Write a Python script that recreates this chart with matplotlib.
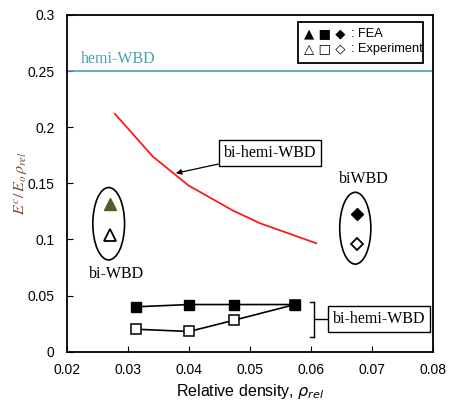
import numpy as np
import matplotlib.pyplot as plt
from matplotlib.patches import Ellipse, Rectangle

# bi-hemi-WBD theory curve (red)
curve_x = [0.0278, 0.034, 0.0399, 0.0472, 0.0516, 0.0608]
curve_y = [0.212, 0.174, 0.148, 0.1256, 0.1144, 0.0966]

hemi_wbd = 0.25

# bi-WBD (triangles)
biwbd_x = 0.027
biwbd_fea = 0.132
biwbd_exp = 0.104

# biWBD (diamonds)
bw_x = 0.0675
bw_fea = 0.123
bw_exp = 0.096

# bi-hemi-WBD squares
sq_x = [0.0313, 0.040, 0.0473, 0.0573]
sq_fea = [0.040, 0.042, 0.042, 0.042]
sq_exp = [0.020, 0.018, 0.028, 0.042]

serif = "Liberation Serif"
sans = "Liberation Sans"

fig = plt.figure(figsize=(4.51, 4.04), dpi=100)
ax = fig.add_axes([0.149, 0.1295, 0.812, 0.8335])

ax.axhline(hemi_wbd, color="#4a9fb0", lw=1.2)
ax.plot(curve_x, curve_y, "-", color="#ff1a1a", lw=1.3)

ax.plot(sq_x, sq_exp, "ks-", mfc="white", ms=7, lw=1.2, mew=1.1)
ax.plot(sq_x, sq_fea, "ks-", mfc="black", ms=7, lw=1.2)

ax.plot(biwbd_x, biwbd_fea, "^", color="#4b5e2b", ms=8.5)
ax.plot(biwbd_x, biwbd_exp, "^", mfc="white", mec="black", ms=8.5, mew=1.3)
ax.plot(bw_x, bw_fea, "D", color="black", ms=6.5)
ax.plot(bw_x, bw_exp, "D", mfc="white", mec="black", ms=6.5, mew=1.3)

ax.add_patch(Ellipse((0.0268, 0.114), 0.0052, 0.0645, fill=False, lw=1.2))
ax.add_patch(Ellipse((0.0672, 0.110), 0.0051, 0.064, fill=False, lw=1.2))

ax.text(0.0223, 0.257, "hemi-WBD", color="#4a9fb0", family=serif, fontsize=11.5)
ax.text(0.0686, 0.1537, "biWBD", ha="center", va="center", family=serif, fontsize=11.5)
ax.text(0.0281, 0.069, "bi-WBD", ha="center", va="center", family=serif, fontsize=11.5)

ax.annotate("bi-hemi-WBD", xy=(0.0378, 0.159), xytext=(0.0532, 0.177),
            ha="center", va="center", family=serif, fontsize=11.5,
            bbox=dict(boxstyle="square,pad=0.3", fc="white", ec="black", lw=1),
            arrowprops=dict(arrowstyle="-|>", color="black", lw=0.9,
                            shrinkA=0, shrinkB=0, mutation_scale=8))

# bracket for square series
ax.plot([0.0605, 0.0605], [0.0134, 0.0445], color="black", lw=1)
ax.plot([0.0605, 0.0598], [0.0445, 0.0445], color="black", lw=1)
ax.plot([0.0605, 0.0598], [0.0134, 0.0134], color="black", lw=1)
ax.plot([0.0605, 0.0636], [0.029, 0.029], color="black", lw=1)
ax.text(0.0711, 0.029, "bi-hemi-WBD", ha="center", va="center", family=serif,
        fontsize=11.5,
        bbox=dict(boxstyle="square,pad=0.3", fc="white", ec="black", lw=1))

# legend box
ax.add_patch(Rectangle((0.630, 0.857), 0.342, 0.122, transform=ax.transAxes,
                       fill=False, ec="black", lw=1.3))
ax.text(0.647, 0.943, "▲ ■ ◆", transform=ax.transAxes, ha="left", va="center",
        family="DejaVu Sans", fontsize=9.5)
ax.text(0.647, 0.898, "△ □ ◇", transform=ax.transAxes, ha="left", va="center",
        family="DejaVu Sans", fontsize=9.5)
ax.text(0.775, 0.943, ": FEA", transform=ax.transAxes, ha="left", va="center",
        family=sans, fontsize=9.2)
ax.text(0.775, 0.898, ": Experiment", transform=ax.transAxes, ha="left", va="center",
        family=sans, fontsize=9.2)

ax.set_xlim(0.02, 0.08)
ax.set_ylim(0, 0.3)
ax.set_xticks(np.arange(0.02, 0.0801, 0.01))
ax.set_yticks(np.arange(0, 0.301, 0.05))
ax.set_xticklabels(["0.02", "0.03", "0.04", "0.05", "0.06", "0.07", "0.08"])
ax.set_yticklabels(["0", "0.05", "0.1", "0.15", "0.2", "0.25", "0.3"])
ax.tick_params(axis="y", direction="in", length=4, labelsize=10, pad=9)
ax.tick_params(axis="x", direction="in", length=4, labelsize=10, pad=8)
for lab in ax.get_xticklabels() + ax.get_yticklabels():
    lab.set_family(sans)
for s in ax.spines.values():
    s.set_linewidth(1.3)

ax.set_xlabel(r"Relative density, $\rho_{rel}$", family=sans, fontsize=11.5,
              labelpad=4, math_fontfamily="dejavusans")
ax.set_ylabel(r"$E^{c}/\,E_{o}\,\rho_{rel}$", color="#7a4a30", fontsize=11.5,
              labelpad=-2, math_fontfamily="stix")

fig.savefig("out.png", dpi=100)
